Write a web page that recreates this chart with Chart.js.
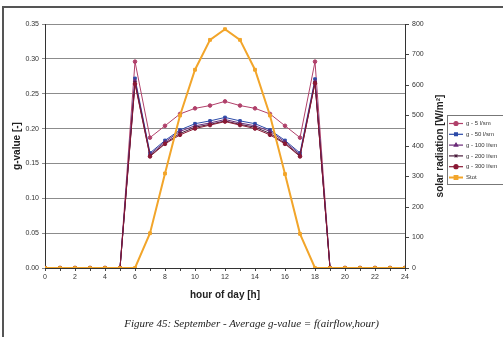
<html lang="en">
<head>
    <meta charset="UTF-8">
    <title>September - Average g-value</title>
    <style>
        body {
            margin: 0;
            background-color: #fff;
            font-family: "Liberation Sans", Arial, sans-serif;
        }
        .frame {
            position: relative;
            width: 503px;
            height: 337px;
            overflow: hidden;
        }
        .border {
            position: absolute;
            left: 2px;
            top: 6px;
            width: 520px;
            height: 400px;
            border-top: 2px solid #555;
            border-left: 2px solid #555;
        }
        .chart-container {
            position: absolute;
            left: 0;
            top: 0;
            width: 503px;
            height: 337px;
        }
        .caption {
            position: absolute;
            left: 0;
            width: 503px;
            top: 317px;
            text-align: center;
            font-family: "Liberation Serif", "Times New Roman", serif;
            font-style: italic;
            font-size: 11px;
            color: #222;
        }
    </style>
</head>
<body>
    <div class="frame">
        <div class="border"></div>
        <div class="chart-container">
            <canvas id="gChart"></canvas>
        </div>
        <div class="caption">Figure 45: September - Average g-value = f(airflow,hour)</div>
    </div>

    <script src="https://cdn.jsdelivr.net/npm/chart.js"></script>
    <script>
        // hours 0..24
        const hours = [0, 1, 2, 3, 4, 5, 6, 7, 8, 9, 10, 11, 12, 13, 14, 15, 16, 17, 18, 19, 20, 21, 22, 23, 24];

        // g-values [-] per airflow
        const g5   = [0, 0, 0, 0, 0, 0, 0.296, 0.187, 0.204, 0.221, 0.229, 0.233, 0.239, 0.233, 0.229, 0.221, 0.204, 0.187, 0.296, 0, 0, 0, 0, 0, 0];
        const g50  = [0, 0, 0, 0, 0, 0, 0.272, 0.165, 0.183, 0.198, 0.207, 0.211, 0.216, 0.211, 0.207, 0.198, 0.183, 0.165, 0.271, 0, 0, 0, 0, 0, 0];
        const g100 = [0, 0, 0, 0, 0, 0, 0.269, 0.163, 0.181, 0.196, 0.204, 0.208, 0.213, 0.208, 0.204, 0.196, 0.181, 0.163, 0.268, 0, 0, 0, 0, 0, 0];
        const g200 = [0, 0, 0, 0, 0, 0, 0.266, 0.161, 0.179, 0.193, 0.202, 0.206, 0.211, 0.206, 0.202, 0.193, 0.179, 0.161, 0.266, 0, 0, 0, 0, 0, 0];
        const g300 = [0, 0, 0, 0, 0, 0, 0.264, 0.160, 0.178, 0.191, 0.200, 0.205, 0.210, 0.205, 0.200, 0.191, 0.178, 0.160, 0.265, 0, 0, 0, 0, 0, 0];

        // total solar radiation [W/m2]
        const stot = [0, 0, 0, 0, 0, 0, 0, 114, 310, 500, 650, 748, 783, 748, 650, 500, 308, 112, 0, 0, 0, 0, 0, 0, 0];

        const seriesLabels = ['g - 5 l/sm', 'g - 50 l/sm', 'g - 100 l/sm', 'g - 200 l/sm', 'g - 300 l/sm', 'Stot'];
        const seriesColors = ['#b0406a', '#2c4aa8', '#6a2a78', '#4a1c3c', '#8a1834', '#f2a52a'];
        const seriesPoints = ['circle', 'rect', 'triangle', 'crossRot', 'circle', 'rect'];
        const seriesData = [g5, g50, g100, g200, g300, stot];

        const FONT = '"Liberation Sans", Arial, sans-serif';

        const datasets = seriesData.map((vals, i) => ({
            label: seriesLabels[i],
            data: hours.map((h, k) => ({ x: h, y: vals[k] })),
            yAxisID: i === 5 ? 'y2' : 'y',
            borderColor: seriesColors[i],
            backgroundColor: seriesColors[i],
            borderWidth: i === 5 ? 2 : 1,
            pointStyle: seriesPoints[i],
            pointRadius: i === 5 ? 2 : 1.8,
            pointBorderWidth: i === 3 ? 1.3 : 1,
            tension: 0,
            order: i === 5 ? 0 : 6 - i
        }));

        // right axis title, rotated to read bottom-to-top
        const rightTitle = {
            id: 'rightTitle',
            afterDraw(chart) {
                const ctx = chart.ctx;
                const a = chart.chartArea;
                ctx.save();
                ctx.translate(440, (a.top + a.bottom) / 2);
                ctx.rotate(-Math.PI / 2);
                ctx.font = 'bold 10px ' + FONT;
                ctx.fillStyle = '#222';
                ctx.textAlign = 'center';
                ctx.textBaseline = 'middle';
                ctx.fillText('solar radiation [W/m²]', 0, 0);
                ctx.restore();
            }
        };

        // boxed legend to the right of the axis
        const boxLegend = {
            id: 'boxLegend',
            afterDraw(chart) {
                const ctx = chart.ctx;
                const x0 = 447, y0 = 115, w = 60, h = 69;
                ctx.save();
                ctx.strokeStyle = '#777';
                ctx.lineWidth = 1;
                ctx.strokeRect(x0 + 0.5, y0 + 0.5, w, h);
                ctx.font = '6px ' + FONT;
                ctx.textBaseline = 'middle';
                seriesLabels.forEach((lab, i) => {
                    const y = 123.5 + i * 10.8;
                    ctx.strokeStyle = seriesColors[i];
                    ctx.lineWidth = i === 5 ? 2 : 1.2;
                    ctx.beginPath();
                    ctx.moveTo(449, y);
                    ctx.lineTo(463, y);
                    ctx.stroke();
                    ctx.fillStyle = seriesColors[i];
                    Chart.helpers.drawPoint(ctx, {
                        pointStyle: seriesPoints[i],
                        radius: 2,
                        borderWidth: 1,
                        rotation: 0
                    }, 456, y);
                    ctx.fillStyle = '#333';
                    ctx.fillText(lab, 466, y);
                });
                ctx.restore();
            }
        };

        const ctx = document.getElementById('gChart').getContext('2d');
        new Chart(ctx, {
            type: 'line',
            data: { datasets: datasets },
            plugins: [rightTitle, boxLegend],
            options: {
                responsive: true,
                maintainAspectRatio: false,
                animation: false,
                devicePixelRatio: 1,
                layout: { padding: { top: 24, left: 0, right: 0, bottom: 0 } },
                plugins: {
                    legend: { display: false },
                    tooltip: { enabled: false }
                },
                scales: {
                    x: {
                        type: 'linear',
                        min: 0,
                        max: 24,
                        afterFit: s => { s.height = 69; },
                        ticks: {
                            stepSize: 1,
                            autoSkip: false,
                            maxRotation: 0,
                            padding: 2,
                            color: '#333',
                            font: { family: FONT, size: 7 },
                            callback: v => (v % 2 === 0 ? String(v) : '')
                        },
                        grid: { drawOnChartArea: false, tickLength: 3, color: '#444' },
                        border: { color: '#333', width: 1 },
                        title: {
                            display: true,
                            text: 'hour of day [h]',
                            color: '#222',
                            font: { family: FONT, size: 10, weight: 'bold' },
                            padding: { top: 0, bottom: 36 }
                        }
                    },
                    y: {
                        position: 'left',
                        min: 0,
                        max: 0.35,
                        afterFit: s => { s.width = 45; },
                        ticks: {
                            stepSize: 0.05,
                            padding: 3,
                            color: '#333',
                            font: { family: FONT, size: 7 },
                            callback: v => v.toFixed(2)
                        },
                        grid: { color: '#8c8c8c', lineWidth: 1, tickLength: 3 },
                        border: { color: '#333', width: 1 },
                        title: {
                            display: true,
                            text: 'g-value [-]',
                            color: '#222',
                            font: { family: FONT, size: 10, weight: 'bold' },
                            padding: { top: 11, bottom: 0 }
                        }
                    },
                    y2: {
                        position: 'right',
                        min: 0,
                        max: 800,
                        afterFit: s => { s.width = 98; },
                        ticks: {
                            stepSize: 100,
                            padding: 3,
                            color: '#333',
                            font: { family: FONT, size: 7 }
                        },
                        grid: { drawOnChartArea: false, tickLength: 4, color: '#444' },
                        border: { color: '#333', width: 1 }
                    }
                }
            }
        });
    </script>
</body>
</html>
